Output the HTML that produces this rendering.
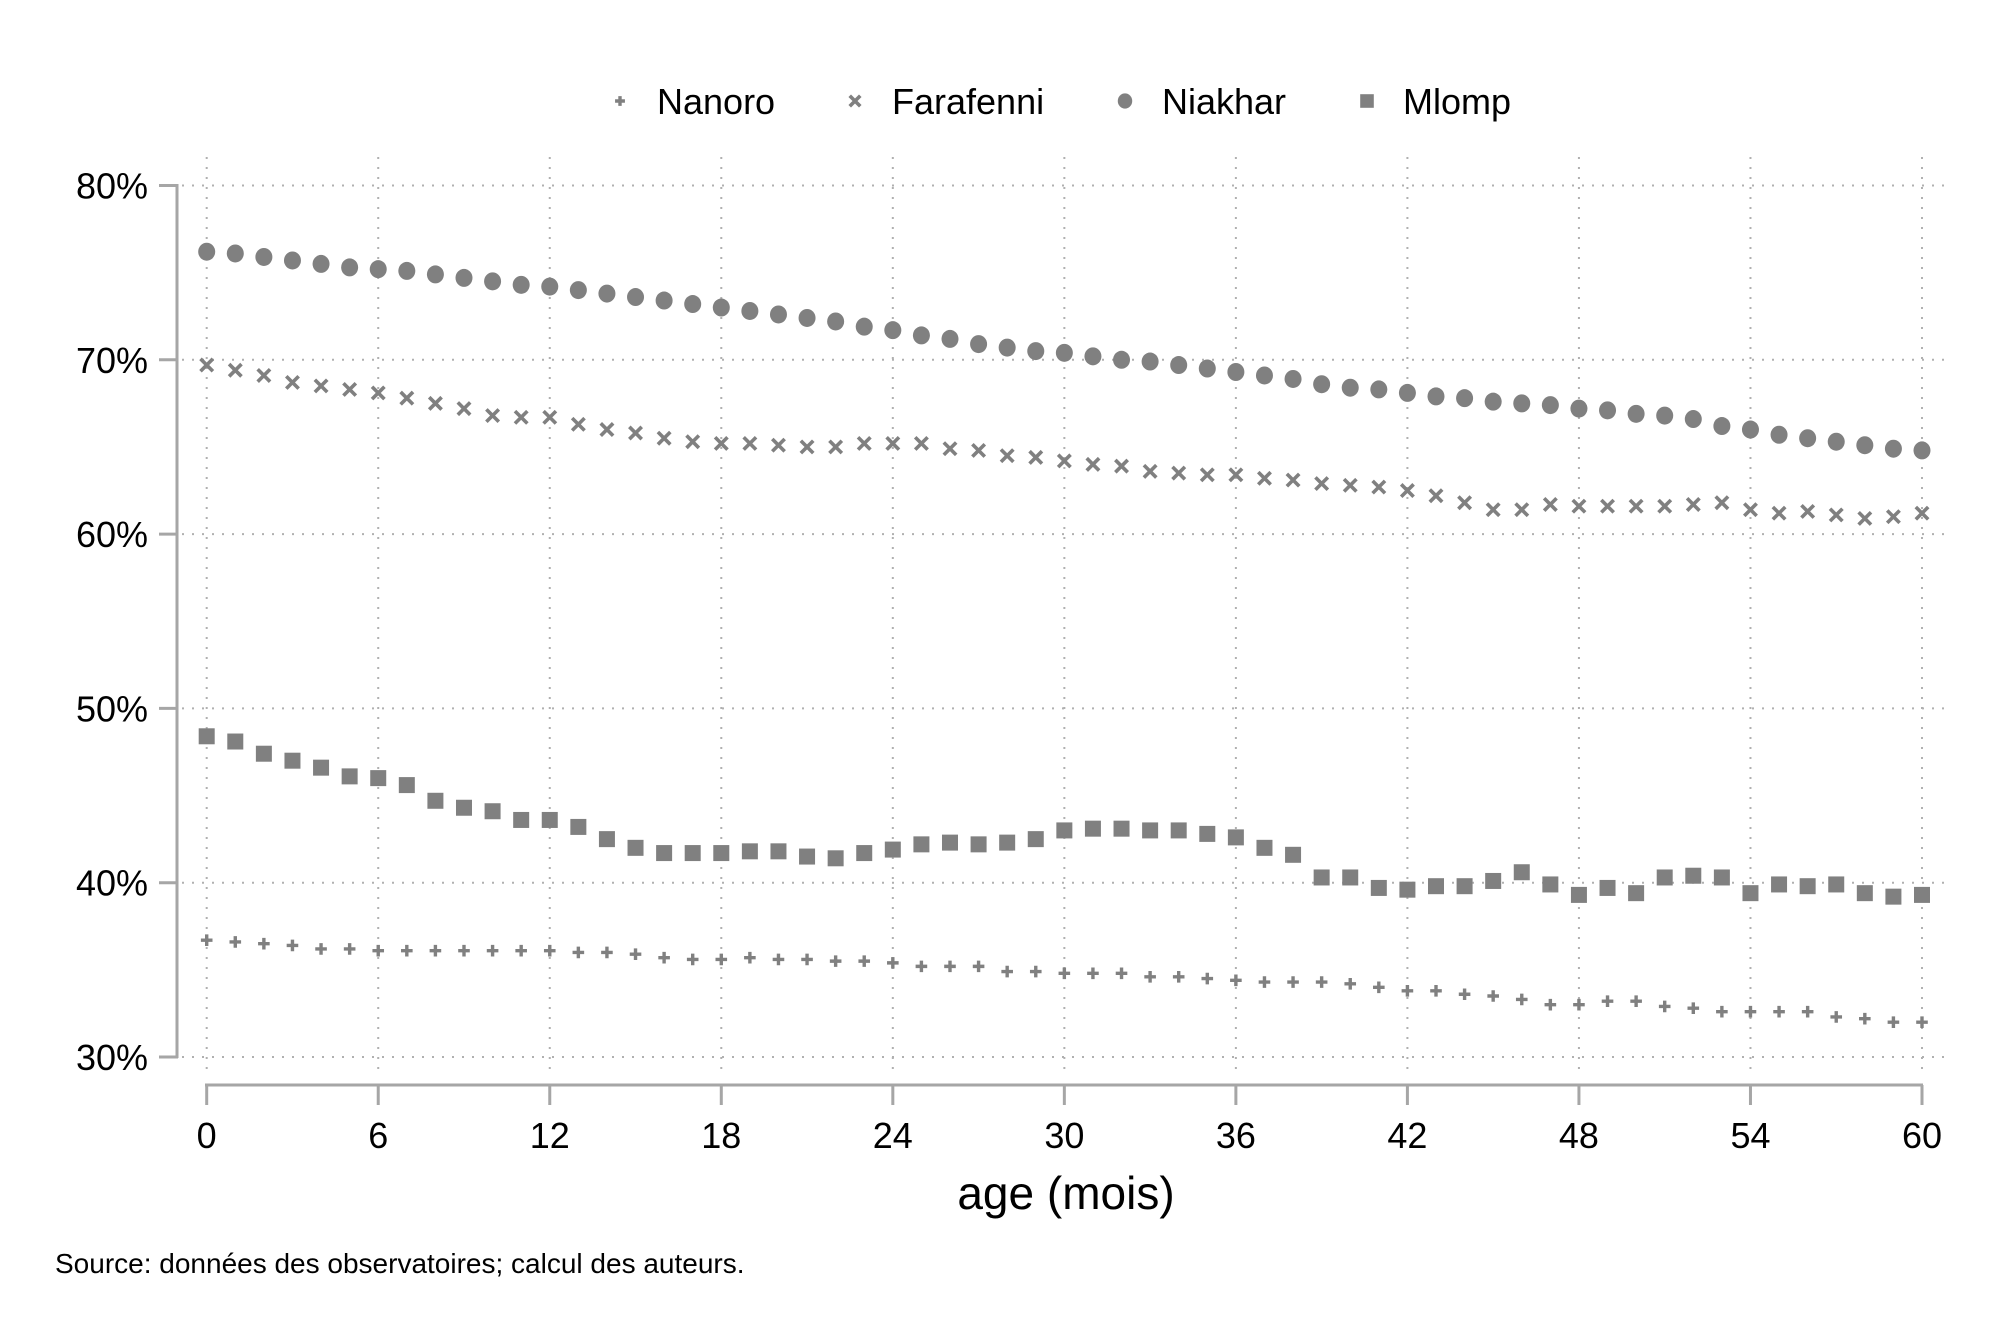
<!DOCTYPE html>
<html><head><meta charset="utf-8"><style>
html,body{margin:0;padding:0;background:#fff;}
svg{display:block;font-family:"Liberation Sans",Arial,sans-serif;}
</style></head><body>
<svg id="chart" width="2000" height="1333" viewBox="0 0 2000 1333">
<g id="grid"></g>
<g id="axes"></g>
<g id="marks"></g>
<g id="legend"></g>
<text x="1066" y="1209" font-size="46" text-anchor="middle" fill="#000">age (mois)</text>
<text x="55" y="1273" font-size="28" fill="#000">Source: données des observatoires; calcul des auteurs.</text>
</svg>
<script>
const months = Array.from({length:61},(_,i)=>i);
const xTicks = [0,6,12,18,24,30,36,42,48,54,60];
const yTicks = [30,40,50,60,70,80];
const yTickLabels = ["30%","40%","50%","60%","70%","80%"];
const seriesNames = ["Nanoro","Farafenni","Niakhar","Mlomp"];
const niakhar = [76.2,76.1,75.9,75.7,75.5,75.3,75.2,75.1,74.9,74.7,74.5,74.3,74.2,74.0,73.8,73.6,73.4,73.2,73.0,72.8,72.6,72.4,72.2,71.9,71.7,71.4,71.2,70.9,70.7,70.5,70.4,70.2,70.0,69.9,69.7,69.5,69.3,69.1,68.9,68.6,68.4,68.3,68.1,67.9,67.8,67.6,67.5,67.4,67.2,67.1,66.9,66.8,66.6,66.2,66.0,65.7,65.5,65.3,65.1,64.9,64.8];
const farafenni = [69.7,69.4,69.1,68.7,68.5,68.3,68.1,67.8,67.5,67.2,66.8,66.7,66.7,66.3,66.0,65.8,65.5,65.3,65.2,65.2,65.1,65.0,65.0,65.2,65.2,65.2,64.9,64.8,64.5,64.4,64.2,64.0,63.9,63.6,63.5,63.4,63.4,63.2,63.1,62.9,62.8,62.7,62.5,62.2,61.8,61.4,61.4,61.7,61.6,61.6,61.6,61.6,61.7,61.8,61.4,61.2,61.3,61.1,60.9,61.0,61.2];
const mlomp = [48.4,48.1,47.4,47.0,46.6,46.1,46.0,45.6,44.7,44.3,44.1,43.6,43.6,43.2,42.5,42.0,41.7,41.7,41.7,41.8,41.8,41.5,41.4,41.7,41.9,42.2,42.3,42.2,42.3,42.5,43.0,43.1,43.1,43.0,43.0,42.8,42.6,42.0,41.6,40.3,40.3,39.7,39.6,39.8,39.8,40.1,40.6,39.9,39.3,39.7,39.4,40.3,40.4,40.3,39.4,39.9,39.8,39.9,39.4,39.2,39.3];
const nanoro = [36.7,36.6,36.5,36.4,36.2,36.2,36.1,36.1,36.1,36.1,36.1,36.1,36.1,36.0,36.0,35.9,35.7,35.6,35.6,35.7,35.6,35.6,35.5,35.5,35.4,35.2,35.2,35.2,34.9,34.9,34.8,34.8,34.8,34.6,34.6,34.5,34.4,34.3,34.3,34.3,34.2,34.0,33.8,33.8,33.6,33.5,33.3,33.0,33.0,33.2,33.2,32.9,32.8,32.6,32.6,32.6,32.6,32.3,32.2,32.0,32.0];

const NS="http://www.w3.org/2000/svg";
const X0=206.7, X1=1922, Y80=185.5, Y30=1057;
const xs = m => X0 + (X1-X0)*m/60;
const ys = v => Y30 - (Y30-Y80)*(v-30)/50;
const C="#808080";
function mk(tag, attrs, parent){const e=document.createElementNS(NS,tag);for(const k in attrs)e.setAttribute(k,attrs[k]);parent.appendChild(e);return e;}
const grid=document.getElementById('grid'), axes=document.getElementById('axes'), marks=document.getElementById('marks'), legend=document.getElementById('legend');

yTicks.forEach((t,i)=>{
  const g=mk('line',{x1:182,x2:1952,y1:ys(t),y2:ys(t),stroke:"#b0b0b0","stroke-width":2,"stroke-dasharray":"2 8"},grid);
  
  
  const tk=mk('line',{x1:159,x2:178,y1:ys(t),y2:ys(t),stroke:"#a6a6a6","stroke-width":3},axes);
  
  
  const tx=mk('text',{x:148,y:ys(t)+13,"font-size":36,"text-anchor":"end",fill:"#000"},axes);
  tx.textContent=yTickLabels[i];
  
  
});
xTicks.forEach(t=>{
  const g=mk('line',{x1:xs(t),x2:xs(t),y1:157,y2:1075,stroke:"#b0b0b0","stroke-width":2,"stroke-dasharray":"2 8"},grid);
  
  
  const tk=mk('line',{x1:xs(t),x2:xs(t),y1:1085,y2:1105,stroke:"#a6a6a6","stroke-width":3},axes);
  
  
  const tx=mk('text',{x:xs(t),y:1148,"font-size":36,"text-anchor":"middle",fill:"#000"},axes);
  tx.textContent=String(t);
  
  
});
const ya=mk('line',{x1:177,x2:177,y1:184,y2:1058,stroke:"#a6a6a6","stroke-width":3},axes);


const xa=mk('line',{x1:205,x2:1923,y1:1085,y2:1085,stroke:"#a6a6a6","stroke-width":3},axes);



function drawMarker(type,x,y,s,parent){
  let e;
  if(type==='circle'){e=mk('ellipse',{cx:x,cy:y,rx:8.5*s,ry:9*s,fill:C},parent);}
  else if(type==='square'){e=mk('rect',{x:x-8*s,y:y-8*s,width:16*s,height:16*s,fill:C},parent);}
  else if(type==='x'){const d=6.2*s;e=mk('path',{d:`M${x-d},${y-d}L${x+d},${y+d}M${x-d},${y+d}L${x+d},${y-d}`,stroke:C,"stroke-width":3.6,fill:"none"},parent);}
  else {const d=5.8*s;e=mk('path',{d:`M${x-d},${y}L${x+d},${y}M${x},${y-d}L${x},${y+d}`,stroke:C,"stroke-width":3.4,fill:"none"},parent);}
  return e;
}
const seriesData=[nanoro,farafenni,niakhar,mlomp];
const types=['plus','x','circle','square'];
seriesData.forEach((arr,si)=>{
  const g=mk('g',{},marks);
  
  
  arr.forEach((v,i)=>{
    const e=drawMarker(types[si],xs(months[i]),ys(v),1,g);
    
    
  });
});
const legX=[620,855,1125,1367], legTX=[657,892,1162,1403];
seriesNames.forEach((n,i)=>{
  const g=mk('g',{},legend);
  
  
  drawMarker(types[i],legX[i],101,0.85,g);
  const t=mk('text',{x:legTX[i],y:114,"font-size":36,fill:"#000"},g);
  t.textContent=n;
});
</script>
</body></html>
